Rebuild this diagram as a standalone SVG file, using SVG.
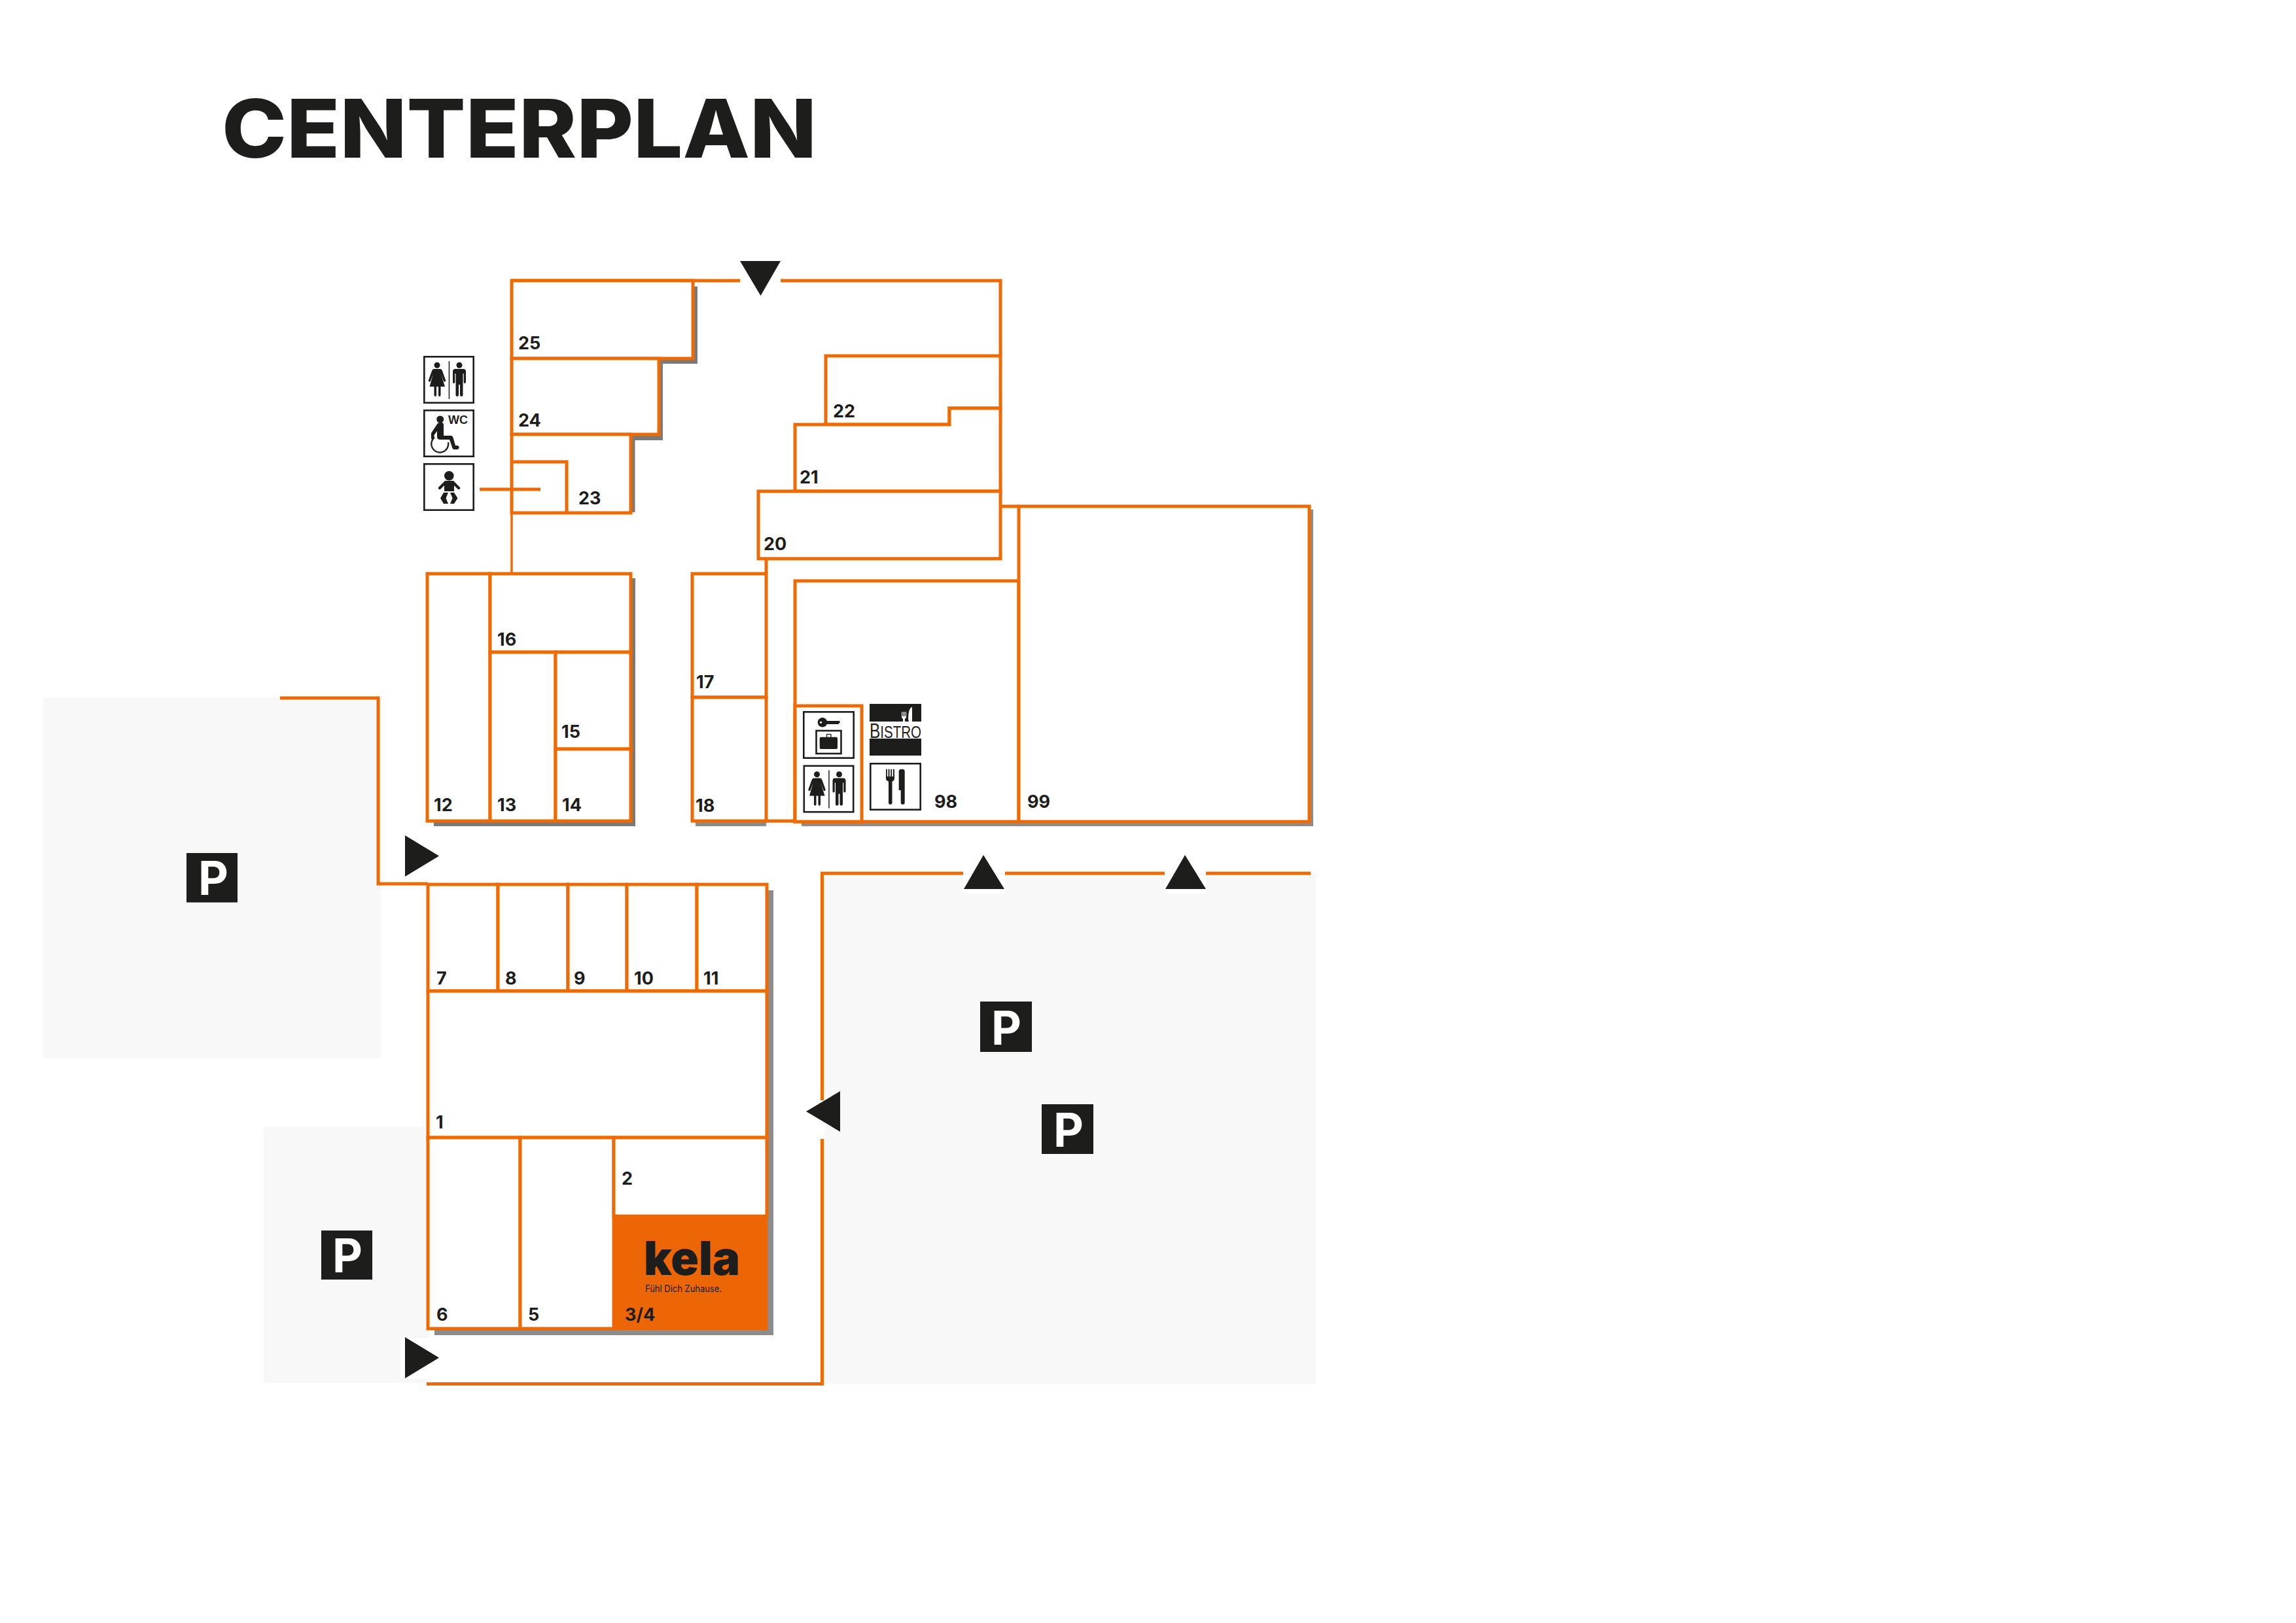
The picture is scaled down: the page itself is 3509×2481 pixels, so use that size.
<svg xmlns="http://www.w3.org/2000/svg" xmlns:xlink="http://www.w3.org/1999/xlink" width="3509" height="2481" viewBox="0 0 3509 2481">
<style>
.park{fill:#f8f8f8}
.cover{fill:#fff}
.shA{fill:#7a7a7a}
.shB{fill:#8c8c8c}
.room{fill:#fff;stroke:#ee6a05;stroke-width:5;stroke-linejoin:miter}
.wall{fill:none;stroke:#ee6a05;stroke-width:5;stroke-linejoin:miter}
.thin{fill:none;stroke:#ee6a05;stroke-width:3.5}
.arr{fill:#1d1d1b}
.ink{fill:#1d1d1b}
.box{fill:#fff;stroke:#1d1d1b;stroke-width:2.6}
.num{font-family:Inter,"Liberation Sans",sans-serif;font-weight:700;font-size:27px;fill:#1d1d1b}
.title{font-family:Inter,"Liberation Sans",sans-serif;font-weight:850;font-size:124px;fill:#1d1d1b}
.p{font-family:Inter,"Liberation Sans",sans-serif;font-weight:700;font-size:71px;fill:#fff;text-anchor:middle}
.wc{font-family:"Liberation Sans",sans-serif;font-weight:700;font-size:18px;fill:#1d1d1b}
.kela{font-family:Inter,"Liberation Sans",sans-serif;font-weight:900;font-size:72px;fill:#1d1d1b}
.tag{font-family:Inter,"Liberation Sans",sans-serif;font-weight:400;font-size:14.5px;fill:#1d1d1b}
.bistro{font-family:"Liberation Sans",sans-serif;font-weight:400;font-size:31px;fill:#1d1d1b}
</style>
<defs>
<g id="pic-wc">
<rect class="box" x="1.3" y="1.3" width="75.400" height="70.400"/>
<circle class="ink" cx="21" cy="14.300" r="4.500"/>
<path class="ink" d="M16 20H26Q28 20 29 23L34 37Q34.500 39 33 39.500Q31.500 40 31 38.500L27 28L33 47H26.500V60Q26.500 62 24.700 62Q23 62 23 60V47H20V60Q20 62 18.200 62Q16.500 62 16.500 60V47H9.500L15 28L11 38.500Q10.500 40 9 39.500Q7.500 39 8 37L13 23Q14 20 16 20Z"/>
<rect class="ink" x="38.700" y="8" width="1.500" height="58"/>
<circle class="ink" cx="55" cy="14.300" r="4.500"/>
<path class="ink" d="M49 20H61Q65 20 65 24V40Q65 42 63.300 42Q61.700 42 61.700 40V27H60.500V60Q60.500 62 58.300 62Q56 62 56 60V44H54V60Q54 62 51.700 62Q49.500 62 49.500 60V27H48.300V40Q48.300 42 46.700 42Q45 42 45 40V24Q45 20 49 20Z"/>
</g>
<path id="tri" class="arr" d="M0 0L52 31.500L0 63Z"/>
</defs>

<text id="title" class="title" x="339" y="241" textLength="909" lengthAdjust="spacingAndGlyphs">CENTERPLAN</text>

<g id="plan" transform="translate(0,2)">
<g id="parking-areas">
<rect class="park" x="66" y="1064" width="516" height="552"/>
<rect class="park" x="403" y="1721" width="254" height="391"/>
<rect class="park" x="1256" y="1333" width="755" height="780"/>
<rect class="cover" x="612" y="2043" width="45" height="63"/>
<rect class="cover" x="1472" y="1336" width="64" height="28"/>
<rect class="cover" x="1780" y="1336" width="63" height="28"/>
<rect class="cover" x="1254" y="1665" width="7" height="73"/>
<rect class="cover" x="582" y="1067" width="72" height="282"/>
</g>

<g id="shadows">
<path class="shA" d="M1059 436H1066V554H1013V671H970.500V781H964V436Z"/>
<path class="shA" d="M964 882H971V1261H663V1253H964Z"/>
<rect class="shB" x="1063" y="1253" width="108" height="8"/>
<rect class="shB" x="1225" y="1254" width="782" height="7"/>
<rect class="shB" x="2001" y="777" width="6" height="484"/>
<path class="shB" d="M1172 1359H1182V2039H664V2029H1172Z"/>
</g>

<g id="connectors">
<path class="wall" d="M782 427H1131"/>
<path class="wall" d="M1193 427H1529V542"/>
<path class="thin" d="M782 782V875"/>
<path class="wall" d="M1171 852V875"/>
<path class="wall" d="M1171 1253H1215"/>
<path class="wall" d="M1529 772H1557"/>
<path class="wall" d="M428 1065H578V1349H654"/>
<path class="wall" d="M1472 1333H1256.500V1680"/>
<path class="wall" d="M1256.500 1739V2113.500H652"/>
<path class="wall" d="M1536 1333H1780"/>
<path class="wall" d="M1843 1333H2003"/>
</g>

<g id="arrows">
<polygon class="arr" points="1131,397 1193,397 1162.500,450"/>
<use xlink:href="#tri" href="#tri" x="619" y="1275"/>
<use xlink:href="#tri" href="#tri" x="619" y="2042"/>
<polygon class="arr" points="1473,1357 1535,1357 1503,1305"/>
<polygon class="arr" points="1781,1357 1843,1357 1811,1305"/>
<polygon class="arr" points="1232,1697 1284,1666 1284,1728"/>
</g>

<g id="room-25"><rect class="room" x="782" y="427" width="277" height="119"/><text class="num" x="792" y="532">25</text></g>
<g id="room-24"><rect class="room" x="782" y="546" width="225" height="116"/><text class="num" x="792" y="650">24</text></g>
<g id="room-23"><rect class="room" x="782" y="662" width="182" height="120"/><path class="wall" d="M782 704H866V782"/><text class="num" x="884" y="769">23</text></g>
<g id="room-22"><path class="room" d="M1262 542H1529V622H1451V647H1262Z"/><text class="num" x="1273" y="636">22</text></g>
<g id="room-21"><path class="room" d="M1215 647H1451V622H1529V749H1215Z"/><text class="num" x="1222" y="737">21</text></g>
<g id="room-20"><rect class="room" x="1159" y="749" width="370" height="103"/><text class="num" x="1167" y="839">20</text></g>
<g id="room-12"><rect class="room" x="653" y="875" width="96" height="378"/><text class="num" x="663" y="1238">12</text></g>
<g id="room-16"><rect class="room" x="749" y="875" width="215" height="120"/><text class="num" x="760" y="985">16</text></g>
<g id="room-13"><rect class="room" x="749" y="995" width="100" height="258"/><text class="num" x="760" y="1238">13</text></g>
<g id="room-15"><rect class="room" x="849" y="995" width="115" height="148"/><text class="num" x="858" y="1126">15</text></g>
<g id="room-14"><rect class="room" x="849" y="1143" width="115" height="110"/><text class="num" x="859" y="1238">14</text></g>
<g id="room-17"><rect class="room" x="1058" y="875" width="113" height="189"/><text class="num" x="1064" y="1050">17</text></g>
<g id="room-18"><rect class="room" x="1058" y="1064" width="113" height="189"/><text class="num" x="1063" y="1239">18</text></g>
<g id="room-98"><rect class="room" x="1215" y="886" width="342" height="368"/><rect class="room" x="1215" y="1077" width="102" height="177"/><text class="num" x="1428" y="1233">98</text></g>
<g id="room-99"><rect class="room" x="1557" y="772" width="444" height="482"/><text class="num" x="1570" y="1233">99</text></g>
<g id="room-7"><rect class="room" x="654" y="1350" width="107" height="163"/><text class="num" x="667" y="1503">7</text></g>
<g id="room-8"><rect class="room" x="761" y="1350" width="107" height="163"/><text class="num" x="772" y="1503">8</text></g>
<g id="room-9"><rect class="room" x="868" y="1350" width="90" height="163"/><text class="num" x="877" y="1503">9</text></g>
<g id="room-10"><rect class="room" x="958" y="1350" width="107" height="163"/><text class="num" x="969" y="1503">10</text></g>
<g id="room-11"><rect class="room" x="1065" y="1350" width="107" height="163"/><text class="num" x="1075" y="1503">11</text></g>
<g id="room-1"><rect class="room" x="654" y="1513" width="518" height="224"/><text class="num" x="666" y="1723">1</text></g>
<g id="room-6"><rect class="room" x="654" y="1737" width="141" height="292"/><text class="num" x="667" y="2017">6</text></g>
<g id="room-5"><rect class="room" x="795" y="1737" width="143" height="292"/><text class="num" x="807" y="2017">5</text></g>
<g id="room-2"><rect class="room" x="938" y="1737" width="234" height="120"/><text class="num" x="950" y="1809">2</text></g>
<g id="room-3-4">
<rect x="936" y="1855" width="237" height="176" fill="#ec6605"/>
<text class="kela" x="984" y="1947" textLength="147" lengthAdjust="spacingAndGlyphs">kela</text>
<text class="tag" x="986" y="1973" textLength="117" lengthAdjust="spacingAndGlyphs">Fühl Dich Zuhause.</text>
<text class="num" x="955" y="2017">3/4</text>
</g>

<path id="baby-room-connector" class="wall" d="M733 746H826"/>

<g id="sign-parking-1"><rect class="ink" x="285" y="1302" width="78" height="75.500"/><text class="p" x="326" y="1366">P</text></g>
<g id="sign-parking-2"><rect class="ink" x="491" y="1879" width="78" height="75"/><text class="p" x="531" y="1943">P</text></g>
<g id="sign-parking-3"><rect class="ink" x="1498" y="1529" width="79" height="77"/><text class="p" x="1538" y="1595">P</text></g>
<g id="sign-parking-4"><rect class="ink" x="1592" y="1686" width="79" height="76"/><text class="p" x="1633" y="1751">P</text></g>

<g id="icon-wc-left" transform="translate(647,542)"><use xlink:href="#pic-wc" href="#pic-wc"/></g>
<g id="icon-accessible" transform="translate(647,624)">
<rect class="box" x="1.3" y="1.3" width="75.400" height="70.400"/>
<circle class="ink" cx="25.700" cy="15" r="5.500"/>
<path class="ink" d="M22 21Q24 20 26 20H28Q31 20 31 24V40H42Q44.500 40 45.500 43L49 55H52Q55 55.500 54.500 58.500Q54 61 51 61H47Q45 61 44.500 59L40 46H26Q21 46 21 42V33L16.500 39V44Q16.500 46 14.500 46Q12 46 12 44V36Z"/>
<path d="M17 42.500A13 13 0 1 0 38 50" fill="none" stroke="#1d1d1b" stroke-width="2.200"/>
<text class="wc" x="38" y="22">WC</text>
</g>
<g id="icon-baby" transform="translate(647,706)">
<rect class="box" x="1.3" y="1.3" width="75.400" height="70.400"/>
<circle class="ink" cx="39.300" cy="19.300" r="7.300"/>
<path class="ink" d="M33 27H46L56 37Q57 39 55 40Q53.500 41 52 39L47 34V43H32V34L27 39Q25.500 41 24 40Q22 39 23 37Z"/>
<path class="ink" d="M31 45H38L34.500 53.500L38 62H31L26 53.500Z"/>
<path class="ink" d="M47 45H41L44.500 53.500L41 62H47L52.500 53.500Z"/>
</g>
<g id="icon-luggage" transform="translate(1227,1085)">
<rect class="box" x="1.3" y="1.3" width="76.400" height="70.400"/>
<circle class="ink" cx="30" cy="17.300" r="7.300"/>
<path class="ink" d="M34 15H56L57 17.300L54 20H38L34 20Z"/>
<circle cx="27.500" cy="17.300" r="1.600" fill="#fff"/>
<rect x="20.500" y="30" width="38" height="35" fill="none" stroke="#1d1d1b" stroke-width="2.600"/>
<rect class="ink" x="25.700" y="39.700" width="27.300" height="18.300" rx="2"/>
<rect x="36.500" y="35.500" width="6.500" height="5" fill="none" stroke="#1d1d1b" stroke-width="1.300"/>
</g>
<g id="icon-wc-right" transform="translate(1227.500,1167.500)"><use xlink:href="#pic-wc" href="#pic-wc"/></g>
<g id="icon-bistro">
<rect class="ink" x="1329" y="1074" width="79" height="79"/>
<rect x="1329" y="1101" width="79" height="26" fill="#fff"/>
<path d="M1378 1086H1379V1093H1380V1086H1381V1093H1382V1086H1383V1093H1384V1086H1385V1095L1383 1097V1101H1380V1097L1378 1095ZM1388 1097Q1388 1082 1393 1079H1394V1101H1389Z" fill="#fff"/>
<text class="bistro" transform="translate(1329,1126) scale(.79,1)">B<tspan font-size="26">ISTRO</tspan></text>
</g>
<g id="icon-cutlery" transform="translate(1329,1164)">
<rect class="box" x="1.3" y="1.3" width="76.400" height="70.400"/>
<path class="ink" d="M25 9.700H26.800V21H28.600V9.700H30.500V21H32.300V9.700H34.200V21H36V9.700H38V24Q38 27 34.500 28.500V61Q34.500 63.700 31.700 63.700Q29 63.700 29 61V28.500Q25 27 25 24Z"/>
<path class="ink" d="M44.700 13Q44.700 9.700 49 9.700Q53.700 9.700 53.700 13V61Q53.700 63.700 50.700 63.700Q47.700 63.700 47.700 61V42H44.700Z"/>
</g>
</g>
</svg>
